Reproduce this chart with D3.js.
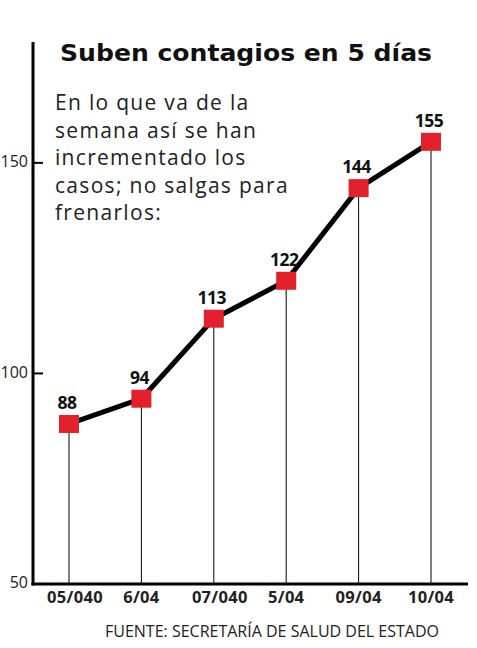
<!DOCTYPE html>
<html>
<head>
<meta charset="utf-8">
<script src="https://cdn.jsdelivr.net/npm/d3@7"></script>
<style>
  body { margin: 0; background: #fff; }
  svg { display: block; }
</style>
</head>
<body>
<div id="chart"></div>
<script>
const dates = ["05/040", "6/04", "07/040", "5/04", "09/04", "10/04"];
const cases = [88, 94, 113, 122, 144, 155];
const yTicks = [50, 100, 150];
const title = "Suben contagios en 5 días";
const subtitle = ["En lo que va de la", "semana así se han", "incrementado los", "casos; no salgas para", "frenarlos:"];
const source = "FUENTE: SECRETARÍA DE SALUD DEL ESTADO";

const width = 477, height = 648;
const margin = {top: 42, right: 9, bottom: 64, left: 33};

const svg = d3.select("#chart")
  .append("svg")
    .attr("width", width)
    .attr("height", height);

const x = d3.scalePoint()
  .domain(dates)
  .range([69, 431]);

const y = d3.scaleLinear()
  .domain([50, 178.7])
  .range([height - margin.bottom, margin.top]);

// axes
svg.append("line")
  .attr("x1", margin.left).attr("x2", margin.left)
  .attr("y1", margin.top).attr("y2", y(50) + 1.5)
  .attr("stroke", "#000").attr("stroke-width", 3);

svg.append("line")
  .attr("x1", margin.left - 1.5).attr("x2", width - margin.right)
  .attr("y1", y(50)).attr("y2", y(50))
  .attr("stroke", "#000").attr("stroke-width", 3);

svg.append("g")
  .selectAll("line")
  .data(yTicks)
  .enter()
  .append("line")
    .attr("x1", margin.left).attr("x2", margin.left + 10)
    .attr("y1", d => y(d)).attr("y2", d => y(d))
    .attr("stroke", "#000").attr("stroke-width", 2);

svg.append("g")
  .selectAll("text")
  .data(yTicks)
  .enter()
  .append("text")
    .attr("x", 28)
    .attr("y", d => y(d))
    .attr("text-anchor", "end")
    .attr("dominant-baseline", "middle")
    .style("font-family", "'Open Sans', sans-serif")
    .style("font-size", "16px")
    .style("fill", "#222")
    .text(d => d);

// x labels (the two ending in "0" sit a bit to the right)
svg.append("g")
  .selectAll("text")
  .data(dates)
  .enter()
  .append("text")
    .attr("x", d => x(d) + (d.length > 5 ? 6 : 0))
    .attr("y", 603)
    .attr("text-anchor", "middle")
    .style("font-family", "'Open Sans', sans-serif")
    .style("font-weight", "700")
    .style("font-size", "16.5px")
    .style("letter-spacing", "0.3px")
    .style("fill", "#222")
    .text(d => d);

// drop lines
svg.append("g")
  .selectAll("line")
  .data(cases)
  .enter()
  .append("line")
    .attr("x1", (d, i) => x(dates[i])).attr("x2", (d, i) => x(dates[i]))
    .attr("y1", d => y(d)).attr("y2", y(50))
    .attr("stroke", "#000").attr("stroke-width", 1);

// line
svg.append("path")
  .datum(cases)
  .attr("fill", "none")
  .attr("stroke", "#000")
  .attr("stroke-width", 5)
  .attr("stroke-linejoin", "round")
  .attr("d", d3.line().x((d, i) => x(dates[i])).y(d => y(d)));

// squares
svg.append("g")
  .selectAll("rect")
  .data(cases)
  .enter()
  .append("rect")
    .attr("x", (d, i) => x(dates[i]) - 10)
    .attr("y", d => y(d) - 9)
    .attr("width", 20)
    .attr("height", 18)
    .attr("fill", "#e3212d");

// value labels
svg.append("g")
  .selectAll("text")
  .data(cases)
  .enter()
  .append("text")
    .attr("x", (d, i) => x(dates[i]) - 2)
    .attr("y", d => y(d) - 15)
    .attr("text-anchor", "middle")
    .style("font-family", "'Open Sans', sans-serif")
    .style("font-weight", "700")
    .style("font-size", "17.5px")
    .style("letter-spacing", "-0.5px")
    .style("fill", "#111")
    .text(d => d);

// title
svg.append("text")
  .attr("x", 60)
  .attr("y", 61)
  .attr("textLength", 372)
  .attr("lengthAdjust", "spacingAndGlyphs")
  .style("font-family", "'DejaVu Sans', sans-serif")
  .style("font-weight", "700")
  .style("font-size", "23px")
  .style("fill", "#111")
  .text(title);

// subtitle
svg.append("g")
  .selectAll("text")
  .data(subtitle)
  .enter()
  .append("text")
    .attr("x", 55)
    .attr("y", (d, i) => 110 + i * 27.5)
    .style("font-family", "'Open Sans', sans-serif")
    .style("font-size", "21px")
    .style("letter-spacing", "1.3px")
    .style("fill", "#222")
    .text(d => d);

// source
svg.append("text")
  .attr("x", 105)
  .attr("y", 637)
  .style("font-family", "'Open Sans', sans-serif")
  .style("font-size", "16px")
  .style("fill", "#222")
  .text(source);
</script>
</body>
</html>
